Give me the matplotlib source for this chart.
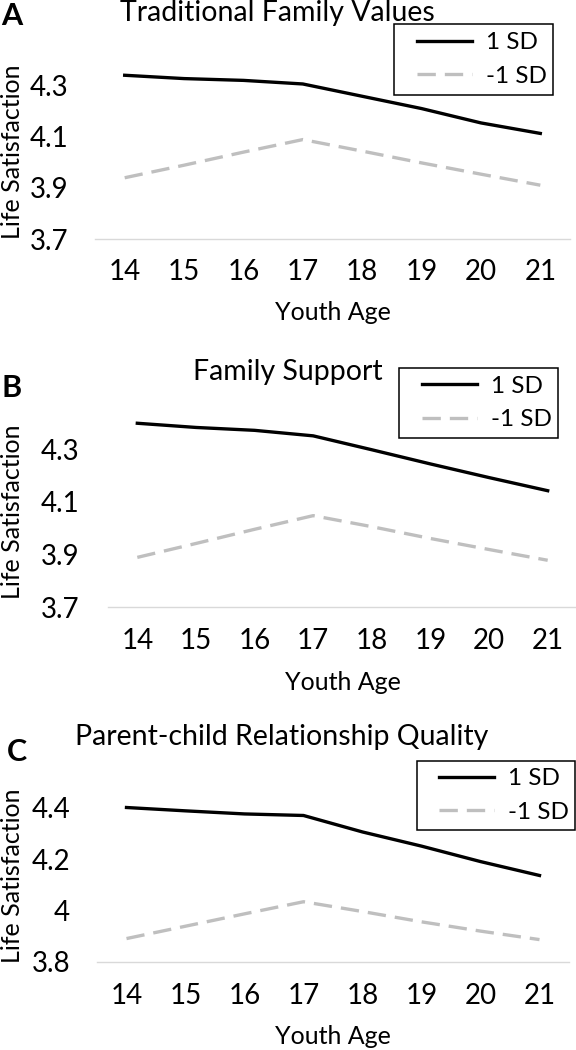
import matplotlib
matplotlib.use("Agg")
import matplotlib.pyplot as plt
from matplotlib.patches import Rectangle

plt.rcParams['font.family'] = ['Lato', 'DejaVu Sans']

ages = [14, 15, 16, 17, 18, 19, 20, 21]

# Traditional family values
tfv_high = [4.339, 4.326, 4.319, 4.305, 4.257, 4.209, 4.153, 4.112]
tfv_low = [3.939, 3.988, 4.039, 4.088, 4.043, 3.997, 3.953, 3.910]

# Family support
fs_high = [4.400, 4.384, 4.373, 4.352, 4.299, 4.245, 4.193, 4.143]
fs_low = [3.889, 3.942, 3.996, 4.048, 4.006, 3.961, 3.919, 3.878]

# Parent-child relationship quality
pcr_high = [4.400, 4.387, 4.375, 4.369, 4.305, 4.250, 4.190, 4.136]
pcr_low = [3.891, 3.939, 3.987, 4.034, 3.996, 3.956, 3.920, 3.887]

W, H = 576, 1050
fig = plt.figure(figsize=(W / 100, H / 100), dpi=100)

GRAY = '#BFBFBF'
FS = 20
PT = 100 / 72  # px per point


def px_axes(left, top, right, bottom):
    return fig.add_axes([left / W, 1 - bottom / H, (right - left) / W, (bottom - top) / H])


def panel(box, high, low, ylim, yticks, ytlabels, letter, letter_xy, title, title_xy,
          legbox, hand_x, ylabel_y, xlabel_y, xtick_y, ytick_right):
    left, top, right, bottom = box
    ax = px_axes(left, top, right, bottom)
    x = list(range(len(ages)))
    ax.plot(x, high, color='black', lw=2.4, label='1 SD')
    ax.plot(x, low, color=GRAY, lw=2.4, label='-1 SD', dashes=(5.5, 2.7))
    ax.set_xlim(-0.5, len(ages) - 0.5)
    ax.set_ylim(*ylim)
    ax.set_yticks(yticks)
    ax.set_yticklabels(ytlabels, fontsize=FS)
    ax.set_xticks(x)
    ax.set_xticklabels([str(a) for a in ages], fontsize=FS)
    ax.tick_params(length=0)
    ax.tick_params(axis='x', pad=(xtick_y - bottom - 14) / PT)
    ax.tick_params(axis='y', pad=(left - ytick_right) / PT)
    for s in ['top', 'right', 'left']:
        ax.spines[s].set_visible(False)
    ax.spines['bottom'].set_color('#D9D9D9')
    ax.spines['bottom'].set_linewidth(1.0)
    ax.set_facecolor('none')

    fig.text(letter_xy[0] / W, 1 - letter_xy[1] / H, letter, fontsize=22,
             fontweight='bold', ha='left', va='center')
    fig.text(title_xy[0] / W, 1 - title_xy[1] / H, title, fontsize=20.5,
             ha='center', va='center')
    fig.text(13 / W, 1 - ylabel_y / H, 'Life Satisfaction', fontsize=18,
             rotation=90, ha='center', va='center')
    fig.text((left + right) / 2 / W, 1 - xlabel_y / H, 'Youth Age', fontsize=18,
             ha='center', va='center')

    # legend box drawn as a plain rectangle, entries via ax.legend
    bl, bt, br, bb = legbox
    fig.add_artist(Rectangle((bl / W, 1 - bb / H), (br - bl) / W, (bb - bt) / H,
                             transform=fig.transFigure, fill=False,
                             edgecolor='black', lw=1.1))
    ax.legend(loc='center left', bbox_to_anchor=(hand_x / W, 1 - (bt + bb) / 2 / H),
              bbox_transform=fig.transFigure, borderaxespad=0, borderpad=0,
              fontsize=17.5, frameon=False, handlelength=2.26, handletextpad=0.58,
              labelspacing=0.5)
    return ax


panel((95, 34, 570, 239), tfv_high, tfv_low, (3.7, 4.5),
      [3.7, 3.9, 4.1, 4.3], ['3.7', '3.9', '4.1', '4.3'],
      'A', (1, 16), 'Traditional Family Values', (277, 13),
      (394, 24, 553, 95), 417, 152, 313, 273, 68)

panel((108, 397, 577, 607), fs_high, fs_low, (3.7, 4.5),
      [3.7, 3.9, 4.1, 4.3], ['3.7', '3.9', '4.1', '4.3'],
      'B', (1, 388), 'Family Support', (288, 372),
      (399, 368, 558, 438), 422, 512, 682, 642, 79)

panel((97, 756, 569, 962), pcr_high, pcr_low, (3.8, 4.6),
      [3.8, 4.0, 4.2, 4.4], ['3.8', '4', '4.2', '4.4'],
      'C', (7, 752), 'Parent-child Relationship Quality', (282, 737),
      (417, 761, 575, 830), 439, 876, 1037, 997, 70)

fig.savefig('out.png', dpi=100)
